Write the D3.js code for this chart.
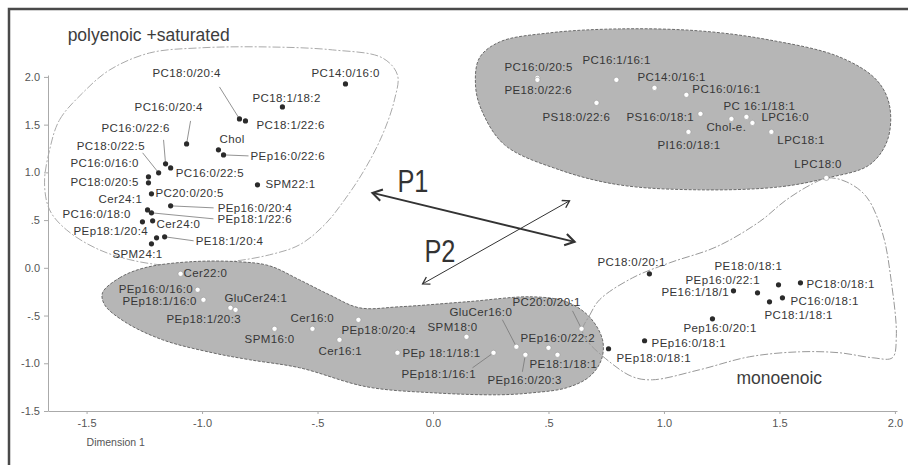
<!DOCTYPE html>
<html><head><meta charset="utf-8">
<script src="https://cdn.jsdelivr.net/npm/d3@7"></script>
<style>body{margin:0;background:#fff} svg{display:block}</style>
</head><body><svg id="c" width="908" height="465"></svg>
<script>
// ---------- data (Dimension 1 / Dimension 2 coordinates) ----------
const polyNames = ["PC14:0/16:0","PC18:1/18:2","PC18:0/20:4","PC18:1/22:6","PC16:0/20:4","PC16:0/22:6","PC16:0/22:5","Chol","PEp16:0/22:6","PC18:0/22:5","PC16:0/16:0","PC18:0/20:5","PC20:0/20:5","Cer24:1","PEp18:1/22:6","PEp16:0/20:4","PC16:0/18:0","Cer24:0","PEp18:1/20:4","PE18:1/20:4","SPM24:1","SPM22:1"];
const polyX = [-0.379,-0.652,-0.838,-0.812,-1.067,-1.158,-1.136,-0.929,-0.907,-1.188,-1.232,-1.232,-1.219,-1.236,-1.219,-1.136,-1.258,-1.214,-1.197,-1.162,-1.219,-0.760];
const polyY = [1.927,1.686,1.560,1.539,1.298,1.089,1.047,1.236,1.183,0.995,0.953,0.890,0.775,0.607,0.576,0.649,0.482,0.492,0.314,0.325,0.251,0.869];

const topNames = ["PC16:0/20:5","PE18:0/22:6","PC16:1/16:1","PC14:0/16:1","PC16:0/16:1","PS18:0/22:6","PS16:0/18:1","PC 16:1/18:1","Chol-e.","LPC16:0","PI16:0/18:1","LPC18:1","LPC18:0"];
const topX = [0.452,0.452,0.794,0.959,1.097,0.708,1.158,1.357,1.292,1.383,1.106,1.465,1.703];
const topY = [1.990,1.969,1.969,1.885,1.812,1.728,1.613,1.581,1.560,1.518,1.424,1.424,0.942];

const lowNames = ["Cer22:0","PEp16:0/16:0","PEp18:1/16:0","GluCer24:1","PEp18:1/20:3","SPM16:0","Cer16:0","Cer16:1","PEp18:0/20:4","PEp 18:1/18:1","SPM18:0","PEp18:1/16:1","GluCer16:0","PEp16:0/20:3","PEp16:0/22:2","PE18:1/18:1","PC20:0/20:1"];
const lowX = [-1.093,-1.019,-0.994,-0.877,-0.855,-0.686,-0.522,-0.405,-0.323,-0.154,0.145,0.262,0.361,0.400,0.500,0.539,0.643];
const lowY = [-0.063,-0.230,-0.335,-0.419,-0.440,-0.639,-0.639,-0.754,-0.545,-0.890,-0.723,-0.890,-0.827,-0.911,-0.838,-0.911,-0.639];

const monoNames = ["PC18:0/20:1","PE16:1/18/1","PEp16:0/22:1","PE18:0/18:1","PC18:0/18:1","PC16:0/18:1","PC18:1/18:1","Pep16:0/20:1","PEp16:0/18:1","PEp18:0/18:1"];
const monoX = [0.937,1.301,1.405,1.496,1.591,1.513,1.457,1.210,0.916,0.760];
const monoY = [-0.063,-0.241,-0.262,-0.178,-0.157,-0.314,-0.356,-0.534,-0.764,-0.848];

const xTicks = [-1.5,-1.0,-0.5,0.0,0.5,1.0,1.5,2.0];
const xTickLabels = ["-1.5","-1.0","-.5","0.0",".5","1.0","1.5","2.0"];
const yTicks = [2.0,1.5,1.0,0.5,0.0,-0.5,-1.0,-1.5];
const yTickLabels = ["2.0","1.5","1.0",".5","0.0","-.5","-1.0","-1.5"];
const xTitle = "Dimension 1";

// region outlines (data units)
const polyHullX = [-1.660,-1.617,-1.517,-1.400,-1.227,-1.011,-0.721,-0.435,-0.219,-0.154,-0.167,-0.219,-0.297,-0.383,-0.470,-0.578,-0.708,-0.881,-1.097,-1.271,-1.444,-1.587,-1.660,-1.682];
const polyHullY = [1.236,1.550,1.832,2.073,2.251,2.304,2.314,2.283,2.199,2.021,1.759,1.393,1.026,0.712,0.450,0.241,0.136,0.063,0.021,0.063,0.188,0.398,0.607,0.890];
const topHullX = [0.184,0.210,0.310,0.548,0.807,1.154,1.500,1.708,1.890,1.968,1.976,1.920,1.760,1.457,1.154,0.807,0.504,0.288,0.201];
const topHullY = [1.916,1.654,1.288,1.026,0.869,0.817,0.848,0.942,1.079,1.340,1.707,1.969,2.209,2.387,2.482,2.503,2.461,2.366,2.199];
const lowHullX = [-1.431,-1.357,-1.249,-1.054,-0.838,-0.708,-0.578,-0.448,-0.318,-0.145,0.145,0.431,0.578,0.677,0.734,0.729,0.677,0.578,0.431,0.288,-0.002,-0.288,-0.578,-0.794,-0.955,-1.171,-1.335,-1.422];
const lowHullY = [-0.262,-0.105,0.000,0.063,0.063,0.021,-0.126,-0.283,-0.419,-0.408,-0.356,-0.304,-0.356,-0.513,-0.754,-0.963,-1.141,-1.257,-1.309,-1.330,-1.309,-1.246,-1.047,-0.963,-0.890,-0.754,-0.565,-0.387];
const monoHullX = [0.647,0.677,0.721,0.864,1.024,1.227,1.413,1.530,1.643,1.708,1.790,1.877,1.946,1.985,2.006,1.989,1.903,1.760,1.587,1.370,1.154,0.950,0.864,0.764,0.664];
const monoHullY = [-0.649,-0.503,-0.335,-0.105,0.052,0.220,0.482,0.712,0.880,0.942,0.901,0.743,0.366,-0.157,-0.723,-0.942,-0.942,-0.890,-0.880,-0.932,-1.068,-1.173,-1.141,-0.984,-0.754];

// annotations (data units)
const regionTitles = ["polyenoic +saturated","monoenoic"];
const regionTitleX = [-1.582,1.314];
const regionTitleY = [2.377,-1.215];
const axisNames = ["P1","P2"];
const axisNameX = [-0.154,-0.037];
const axisNameY = [0.796,0.063];
const p1Arrow = [[-0.262,0.785],[0.613,0.272]];
const p2Arrow = [[0.591,0.702],[-0.045,-0.168]];

// ---------- label layout (pixel offsets from the point) ----------
const polyLab = [[-34,-7],[-30,-5],[-87,-42],[11,8],[-52,-33],[-64,-32],[5,9],[1,-7],[27,5],[-82,-23],[-78,-10],[-78,3],[4,3],[-49,-7],[66,10],[47,6],[-80,-4],[4,7],[-83,-3],[31,8],[-39,14],[8,3]];
const topLab = [[-33,-7],[-33,14],[-34,-16],[-17,-7],[6,-2],[-54,18],[-74,7],[-23,-7],[-25,12],[9,-2],[-31,17],[6,12],[-32,-10]];
const lowLab = [[3,3],[-79,3],[-81,5],[-6,-6],[-69,13],[-30,14],[-22,-7],[-21,15],[-17,14],[5,4],[-39,-6],[-92,25],[-67,-31],[-38,29],[-28,-6],[-28,13],[-69,-23]];
const monoLab = [[-52,-8],[-72,5],[-72,-9],[-64,-15],[6,5],[8,7],[-5,17],[-29,13],[7,6],[8,13]];
const leaders = {"PC18:0/20:4":[-20,-32],"PC16:0/20:4":[4,-23],"PC16:0/22:6":[-2,-24],"PEp16:0/22:6":[25,1],"PC18:0/22:5":[-16,-20],"PEp18:1/22:6":[62,6],"PEp16:0/20:4":[43,2],"PE18:1/20:4":[29,4],"PEp18:1/16:1":[-21,15],"GluCer16:0":[-14,-27],"PEp16:0/20:3":[-3,17],"PC20:0/20:1":[-9,-18]};

// ---------- drawing ----------
const svg = d3.select("#c");
const x = d3.scaleLinear().domain([-1.667, 2.009]).range([48, 897]);
const y = d3.scaleLinear().domain([-1.5, 2.02]).range([411, 75]);
const FONT = "'Liberation Sans', Arial, sans-serif";

// frame
svg.append("path").attr("d", "M9,465 V9 H908").attr("fill","none").attr("stroke","#4a4a4a").attr("stroke-width",2.5);

const hull = d3.line().x(d=>x(d[0])).y(d=>y(d[1])).curve(d3.curveCatmullRomClosed.alpha(0.5));
const zip = (a,b) => a.map((v,i)=>[v,b[i]]);

svg.append("path").attr("d", hull(zip(polyHullX, polyHullY)))
  .attr("fill","none").attr("stroke","#aaa").attr("stroke-width",1).attr("stroke-dasharray","8,2,2,2");
svg.append("path").attr("d", hull(zip(topHullX, topHullY)))
  .attr("fill","#b6b6b6").attr("stroke","#6a6a6a").attr("stroke-width",1).attr("stroke-dasharray","3,1.5");
svg.append("path").attr("d", hull(zip(lowHullX, lowHullY)))
  .attr("fill","#b6b6b6").attr("stroke","#6a6a6a").attr("stroke-width",1).attr("stroke-dasharray","3,1.5");
svg.append("path").attr("d", hull(zip(monoHullX, monoHullY)))
  .attr("fill","none").attr("stroke","#999").attr("stroke-width",1).attr("stroke-dasharray","8,2,2,2");

// axes
const yAxis = d3.axisLeft(y).tickValues(yTicks).tickFormat((d,i)=>yTickLabels[i]).tickSize(4).tickSizeOuter(0).tickPadding(4);
const gy = svg.append("g").attr("transform","translate(48,0)").call(yAxis);
const xAxis = d3.axisBottom(x).tickValues(xTicks).tickFormat((d,i)=>xTickLabels[i]).tickSize(3).tickSizeOuter(0).tickPadding(5);
const gx = svg.append("g").attr("transform","translate(0,411)").call(xAxis);
[gx, gy].forEach(g => {
  g.select(".domain").attr("stroke","#aaa");
  g.selectAll(".tick line").attr("stroke","#aaa");
  g.selectAll("text").attr("fill","#555").style("font-family",FONT).style("font-size","11px");
});
svg.append("text").attr("x", x(-1.5)).attr("y", 446).text(xTitle)
  .attr("fill","#555").style("font-family",FONT).style("font-size","10.5px");

// region titles
svg.selectAll(".rt").data(regionTitles).enter().append("text")
  .attr("x",(d,i)=>x(regionTitleX[i])).attr("y",(d,i)=>y(regionTitleY[i])).text(d=>d)
  .attr("fill","#3d3d3d").style("font-family",FONT).style("font-size","17.5px").style("font-weight","300");

// arrows
const defs = svg.append("defs");
function marker(id, size, w) {
  defs.append("marker").attr("id",id).attr("viewBox","-10 -6 12 12").attr("refX",0).attr("refY",0)
    .attr("markerWidth",size).attr("markerHeight",size).attr("markerUnits","userSpaceOnUse").attr("orient","auto-start-reverse")
    .append("path").attr("d","M-8,-5 L0,0 L-8,5").attr("fill","none").attr("stroke","#333").attr("stroke-width",w);
}
marker("m1", 14, 1.8);
marker("m2", 10, 1.6);
svg.append("line").attr("x1",x(p1Arrow[0][0])).attr("y1",y(p1Arrow[0][1])).attr("x2",x(p1Arrow[1][0])).attr("y2",y(p1Arrow[1][1]))
  .attr("stroke","#333").attr("stroke-width",2).attr("marker-start","url(#m1)").attr("marker-end","url(#m1)");
svg.append("line").attr("x1",x(p2Arrow[0][0])).attr("y1",y(p2Arrow[0][1])).attr("x2",x(p2Arrow[1][0])).attr("y2",y(p2Arrow[1][1]))
  .attr("stroke","#333").attr("stroke-width",1).attr("marker-start","url(#m2)").attr("marker-end","url(#m2)");
svg.selectAll(".an").data(axisNames).enter().append("text")
  .attr("x",(d,i)=>x(axisNameX[i])).attr("y",(d,i)=>y(axisNameY[i])).text(d=>d)
  .attr("textLength",31).attr("lengthAdjust","spacingAndGlyphs")
  .attr("fill","#333").style("font-family",FONT).style("font-size","31px").style("font-weight","300");

// points + labels
const groups = [
  {names:polyNames, xs:polyX, ys:polyY, lab:polyLab, fill:"#2b2b2b", stroke:"none"},
  {names:topNames, xs:topX, ys:topY, lab:topLab, fill:"#fff", stroke:"#999"},
  {names:lowNames, xs:lowX, ys:lowY, lab:lowLab, fill:"#fff", stroke:"#999"},
  {names:monoNames, xs:monoX, ys:monoY, lab:monoLab, fill:"#2b2b2b", stroke:"none"}
];
groups.forEach(g => {
  const pts = g.names.map((n,i)=>({name:n, x:g.xs[i], y:g.ys[i], lab:g.lab[i]}));
  const gg = svg.append("g");
  gg.selectAll("line.ld").data(pts.filter(p=>leaders[p.name])).enter().append("line")
    .attr("x1",p=>x(p.x)).attr("y1",p=>y(p.y))
    .attr("x2",p=>x(p.x)+leaders[p.name][0]).attr("y2",p=>y(p.y)+leaders[p.name][1])
    .attr("stroke","#777").attr("stroke-width",0.8);
  gg.selectAll("circle").data(pts).enter().append("circle")
    .attr("cx",p=>x(p.x)).attr("cy",p=>y(p.y)).attr("r",2.6)
    .attr("fill",g.fill).attr("stroke",g.stroke).attr("stroke-width",0.6);
  gg.selectAll("text").data(pts).enter().append("text")
    .attr("x",p=>x(p.x)+p.lab[0]).attr("y",p=>y(p.y)+p.lab[1]).text(p=>p.name)
    .attr("fill","#363636").style("font-family",FONT).style("font-size","11.5px").style("letter-spacing","0.4px");
});
</script>
</body></html>
